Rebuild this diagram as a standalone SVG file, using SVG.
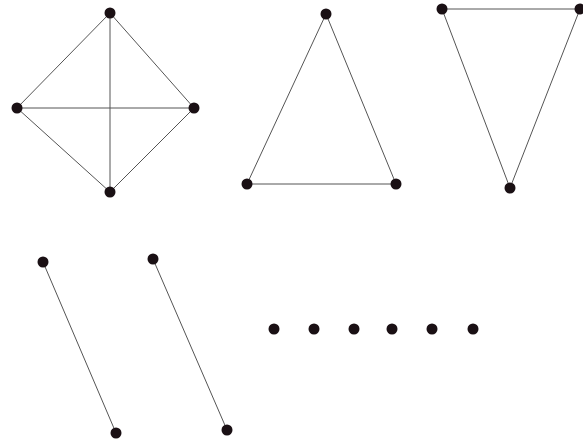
<svg xmlns="http://www.w3.org/2000/svg" width="583" height="443" viewBox="0 0 583 443">
<style>
.e{stroke:#555;stroke-width:1;fill:none}
.n{fill:#1a1014}
</style>
<rect width="583" height="443" fill="#fff"/>
<g id="edges">
<line class="e" x1="110" y1="13" x2="17" y2="108"/>
<line class="e" x1="110" y1="13" x2="194" y2="108"/>
<line class="e" x1="110" y1="13" x2="110" y2="192"/>
<line class="e" x1="17" y1="108" x2="194" y2="108"/>
<line class="e" x1="17" y1="108" x2="110" y2="192"/>
<line class="e" x1="194" y1="108" x2="110" y2="192"/>
<line class="e" x1="326" y1="14" x2="247" y2="184"/>
<line class="e" x1="326" y1="14" x2="396" y2="184"/>
<line class="e" x1="247" y1="184" x2="396" y2="184"/>
<line class="e" x1="442" y1="9" x2="580" y2="9"/>
<line class="e" x1="442" y1="9" x2="510" y2="188"/>
<line class="e" x1="580" y1="9" x2="510" y2="188"/>
<line class="e" x1="43" y1="262" x2="116" y2="433"/>
<line class="e" x1="153" y1="259" x2="227" y2="430"/>
</g>
<g id="n1"><circle class="n" cx="110" cy="13" r="5.5"/></g>
<g id="n2"><circle class="n" cx="17" cy="108" r="5.5"/></g>
<g id="n3"><circle class="n" cx="194" cy="108" r="5.5"/></g>
<g id="n4"><circle class="n" cx="110" cy="192" r="5.5"/></g>
<g id="n5"><circle class="n" cx="326" cy="14" r="5.5"/></g>
<g id="n6"><circle class="n" cx="247" cy="184" r="5.5"/></g>
<g id="n7"><circle class="n" cx="396" cy="184" r="5.5"/></g>
<g id="n8"><circle class="n" cx="442" cy="9" r="5.5"/></g>
<g id="n9"><circle class="n" cx="580" cy="9" r="5.5"/></g>
<g id="n10"><circle class="n" cx="510" cy="188" r="5.5"/></g>
<g id="n11"><circle class="n" cx="43" cy="262" r="5.5"/></g>
<g id="n12"><circle class="n" cx="116" cy="433" r="5.5"/></g>
<g id="n13"><circle class="n" cx="153" cy="259" r="5.5"/></g>
<g id="n14"><circle class="n" cx="227" cy="430" r="5.5"/></g>
<g id="n15"><circle class="n" cx="274" cy="329" r="5.5"/></g>
<g id="n16"><circle class="n" cx="314" cy="329" r="5.5"/></g>
<g id="n17"><circle class="n" cx="354" cy="329" r="5.5"/></g>
<g id="n18"><circle class="n" cx="392" cy="329" r="5.5"/></g>
<g id="n19"><circle class="n" cx="432" cy="329" r="5.5"/></g>
<g id="n20"><circle class="n" cx="473" cy="329" r="5.5"/></g>
</svg>
